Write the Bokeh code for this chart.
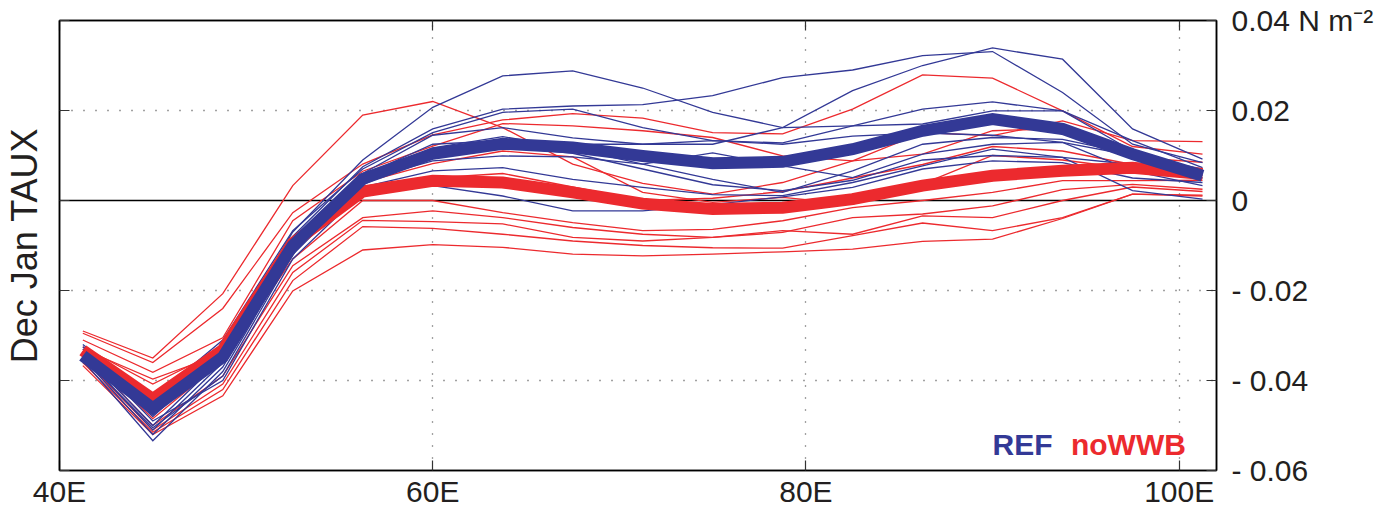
from bokeh.plotting import figure
from bokeh.models import Range1d, LinearAxis, FixedTicker, Span, Label
from bokeh.embed import file_html
from bokeh.resources import INLINE

# ---------------- data ----------------
lon = [41.25, 45.0, 48.75, 52.5, 56.25, 60.0, 63.75, 67.5, 71.25, 75.0,
       78.75, 82.5, 86.25, 90.0, 93.75, 97.5, 101.25]

ref_mean = [-0.0345, -0.0462, -0.0348, -0.0100, 0.0048, 0.0104, 0.0126, 0.0118, 0.0099,
            0.0083, 0.0086, 0.0114, 0.0155, 0.0181, 0.0159, 0.0103, 0.0055]
nowwb_mean = [-0.0333, -0.0441, -0.0332, -0.0095, 0.0020, 0.0044, 0.0040, 0.0018, -0.0007,
              -0.0019, -0.0016, 0.0003, 0.0033, 0.0055, 0.0066, 0.0073, 0.0059]

ref_runs = [
    [-0.0325, -0.0470, -0.0330, -0.0070, 0.0090, 0.0207, 0.0277, 0.0288, 0.0250, 0.0196, 0.0162, 0.0244, 0.0300, 0.0339, 0.0314, 0.0159, 0.0092],
    [-0.0335, -0.0480, -0.0340, -0.0080, 0.0075, 0.0159, 0.0203, 0.0210, 0.0213, 0.0233, 0.0273, 0.0290, 0.0322, 0.0331, 0.0240, 0.0125, 0.0084],
    [-0.0320, -0.0440, -0.0310, -0.0067, 0.0070, 0.0151, 0.0196, 0.0203, 0.0162, 0.0133, 0.0128, 0.0166, 0.0203, 0.0219, 0.0199, 0.0133, 0.0073],
    [-0.0340, -0.0500, -0.0350, -0.0090, 0.0060, 0.0145, 0.0162, 0.0139, 0.0125, 0.0125, 0.0162, 0.0166, 0.0170, 0.0199, 0.0199, 0.0110, 0.0062],
    [-0.0345, -0.0510, -0.0360, -0.0100, 0.0050, 0.0117, 0.0142, 0.0116, 0.0081, 0.0047, 0.0018, 0.0066, 0.0125, 0.0140, 0.0136, 0.0103, 0.0055],
    [-0.0350, -0.0520, -0.0370, -0.0105, 0.0045, 0.0088, 0.0099, 0.0097, 0.0081, 0.0106, 0.0077, 0.0051, 0.0103, 0.0125, 0.0129, 0.0066, 0.0033],
    [-0.0355, -0.0534, -0.0380, -0.0115, 0.0030, 0.0066, 0.0073, 0.0047, 0.0029, 0.0013, 0.0011, 0.0040, 0.0077, 0.0114, 0.0096, 0.0022, 0.0003],
    [-0.0330, -0.0490, -0.0400, -0.0130, 0.0020, 0.0033, 0.0010, -0.0023, -0.0023, -0.0009, 0.0008, 0.0029, 0.0070, 0.0088, 0.0084, 0.0050, 0.0040],
    [-0.0338, -0.0455, -0.0320, -0.0085, 0.0055, 0.0125, 0.0133, 0.0125, 0.0125, 0.0133, 0.0125, 0.0143, 0.0150, 0.0145, 0.0129, 0.0100, 0.0070],
    [-0.0348, -0.0505, -0.0390, -0.0120, 0.0035, 0.0100, 0.0120, 0.0105, 0.0070, 0.0035, 0.0022, 0.0045, 0.0090, 0.0100, 0.0096, 0.0080, 0.0050],
]

nowwb_runs = [
    [-0.0290, -0.0350, -0.0207, 0.0033, 0.0190, 0.0220, 0.0162, 0.0081, 0.0038, 0.0014, 0.0040, 0.0088, 0.0151, 0.0144, 0.0177, 0.0133, 0.0131],
    [-0.0295, -0.0360, -0.0240, -0.0027, 0.0081, 0.0146, 0.0179, 0.0193, 0.0183, 0.0151, 0.0148, 0.0203, 0.0279, 0.0272, 0.0199, 0.0120, 0.0103],
    [-0.0310, -0.0382, -0.0305, -0.0045, 0.0065, 0.0121, 0.0171, 0.0166, 0.0155, 0.0140, 0.0099, 0.0088, 0.0103, 0.0155, 0.0160, 0.0096, 0.0085],
    [-0.0325, -0.0408, -0.0330, -0.0090, 0.0040, 0.0082, 0.0110, 0.0097, 0.0018, -0.0004, 0.0007, -0.0008, 0.0037, 0.0100, 0.0090, 0.0070, 0.0060],
    [-0.0330, -0.0397, -0.0340, -0.0095, 0.0030, 0.0050, 0.0060, 0.0030, 0.0000, 0.0005, 0.0020, 0.0050, 0.0080, 0.0120, 0.0110, 0.0080, 0.0050],
    [-0.0335, -0.0485, -0.0356, -0.0130, 0.0000, 0.0000, -0.0027, -0.0049, -0.0067, -0.0064, -0.0045, -0.0016, 0.0000, 0.0018, 0.0044, 0.0044, 0.0045],
    [-0.0340, -0.0500, -0.0390, -0.0145, -0.0038, -0.0023, -0.0038, -0.0060, -0.0075, -0.0082, -0.0071, -0.0038, -0.0030, -0.0012, 0.0024, 0.0036, 0.0025],
    [-0.0350, -0.0510, -0.0408, -0.0160, -0.0044, -0.0047, -0.0052, -0.0082, -0.0090, -0.0082, -0.0067, -0.0075, -0.0034, -0.0038, 0.0000, 0.0030, 0.0020],
    [-0.0360, -0.0515, -0.0420, -0.0178, -0.0058, -0.0062, -0.0075, -0.0090, -0.0100, -0.0105, -0.0106, -0.0078, -0.0050, -0.0067, -0.0038, 0.0014, 0.0010],
    [-0.0367, -0.0520, -0.0434, -0.0201, -0.0110, -0.0098, -0.0104, -0.0119, -0.0123, -0.0119, -0.0114, -0.0108, -0.0091, -0.0086, -0.0040, 0.0014, 0.0012],
]

x_ticks = [40, 60, 80, 100]
x_tick_labels = ["40E", "60E", "80E", "100E"]
x_grid = [60, 80, 100]
y_ticks = [0.04, 0.02, 0.0, -0.02, -0.04, -0.06]
y_tick_labels = ["0.04 N m\u207b\u00b2", "0.02", "0", "- 0.02", "- 0.04", "- 0.06"]
y_grid = [0.02, -0.02, -0.04]
y_title = "Dec Jan TAUX"
legend_names = ["REF", "noWWB"]

BLUE = "#333996"
RED = "#EC2A2E"
INK = "#231f20"
FONT = "Liberation Sans"

# ---------------- figure ----------------
p = figure(width=1385, height=512, output_backend="svg", toolbar_location=None,
           x_range=Range1d(40, 102), y_range=Range1d(-0.06, 0.04),
           y_axis_location="right",
           min_border_left=58, min_border_right=169, min_border_top=20, min_border_bottom=42)
p.background_fill_color = "white"
p.border_fill_color = "white"
p.outline_line_color = "black"
p.outline_line_width = 1.5


def style_axis(ax):
    ax.axis_line_color = "black"
    ax.axis_line_width = 1.5
    ax.major_tick_in = 10
    ax.major_tick_out = 0
    ax.major_tick_line_color = "#333333"
    ax.major_tick_line_width = 1.2
    ax.minor_tick_line_color = None
    ax.major_label_text_font = FONT
    ax.major_label_text_font_size = "30px"
    ax.major_label_text_color = INK


# bottom axis
xa = p.xaxis[0]
xa.ticker = FixedTicker(ticks=x_ticks)
xa.major_label_overrides = {t: s for t, s in zip(x_ticks, x_tick_labels)}
style_axis(xa)
xa.major_label_standoff = 4

# right axis
ya = p.yaxis[0]
ya.ticker = FixedTicker(ticks=y_ticks)
ya.major_label_overrides = {t: s for t, s in zip(y_ticks, y_tick_labels)}
style_axis(ya)
ya.major_label_standoff = 15

# left axis (ticks + title only)
la = LinearAxis(ticker=FixedTicker(ticks=y_ticks), axis_label=y_title)
style_axis(la)
la.major_label_overrides = {t: "" for t in y_ticks}
la.major_label_text_font_size = "0px"
la.major_label_standoff = 0
la.axis_label_standoff = 15
la.axis_label_text_font = FONT
la.axis_label_text_font_size = "36px"
la.axis_label_text_font_style = "normal"
la.axis_label_text_color = INK
p.add_layout(la, "left")

# top axis (ticks only)
ta = LinearAxis(ticker=FixedTicker(ticks=x_ticks))
style_axis(ta)
ta.major_label_overrides = {t: "" for t in x_ticks}
ta.major_label_text_font_size = "0px"
ta.major_label_standoff = 0
p.add_layout(ta, "above")

# grids
p.xgrid.ticker = FixedTicker(ticks=x_grid)
p.ygrid.ticker = FixedTicker(ticks=y_grid)
for g in (p.xgrid[0], p.ygrid[0]):
    g.grid_line_color = "#444444"
    g.grid_line_width = 1.3
    g.grid_line_dash = "1 11"

p.add_layout(Span(location=0, dimension="width", line_color="black",
                  line_width=1.5, level="underlay"))

# members
for run in nowwb_runs:
    p.line(lon, run, line_color=RED, line_width=1.3, line_join="miter")
for run in ref_runs:
    p.line(lon, run, line_color=BLUE, line_width=1.3, line_join="miter")

# ensemble means
p.line(lon, nowwb_mean, line_color=RED, line_width=12, line_join="miter")
p.line(lon, ref_mean, line_color=BLUE, line_width=12, line_join="miter")

# legend words
p.add_layout(Label(x=90.0, y=-0.0543, text=legend_names[0], text_font=FONT,
                   text_font_size="30px", text_font_style="bold", text_color=BLUE,
                   text_align="left", text_baseline="alphabetic"))
p.add_layout(Label(x=94.2, y=-0.0543, text=legend_names[1], text_font=FONT,
                   text_font_size="30px", text_font_style="bold", text_color=RED,
                   text_align="left", text_baseline="alphabetic"))

open("out.html", "w").write(file_html(p, INLINE))
